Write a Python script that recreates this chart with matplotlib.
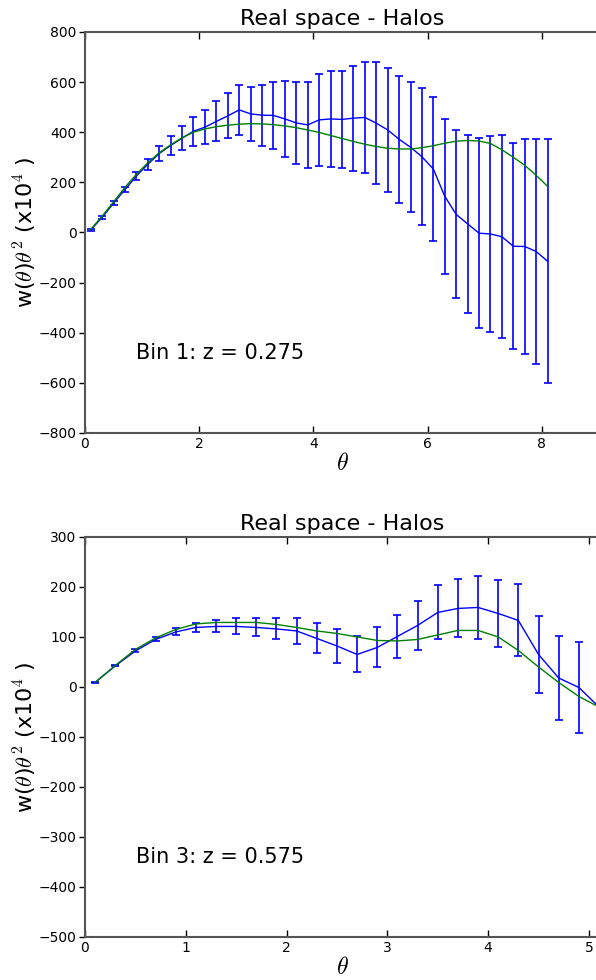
import numpy as np
import matplotlib
matplotlib.use('Agg')
import matplotlib.pyplot as plt

plt.rcParams['mathtext.fontset'] = 'cm'

# Bin 1 (z = 0.275)
theta1 = [0.1, 0.3, 0.5, 0.7, 0.9, 1.1, 1.3, 1.5, 1.7, 1.9, 2.1, 2.3, 2.5, 2.7,
          2.9, 3.1, 3.3, 3.5, 3.7, 3.9, 4.1, 4.3, 4.5, 4.7, 4.9, 5.1, 5.3, 5.5,
          5.7, 5.9, 6.1, 6.3, 6.5, 6.7, 6.9, 7.1, 7.3, 7.5, 7.7, 7.9, 8.1]
meas1 = [10, 60, 117, 171, 225, 272, 315, 347, 376, 404, 420, 443, 465, 489,
         473, 468, 467, 453, 437, 429, 449, 453, 451, 456, 459, 436, 409, 372,
         340, 302, 253, 144, 72, 34, -3, -6, -17, -55, -56, -76, -115]
err1 = [3, 5, 9, 11, 17, 22, 30, 39, 48, 58, 67, 80, 90, 99,
        108, 122, 135, 152, 163, 173, 185, 192, 195, 209, 223, 243, 249, 253,
        260, 273, 286, 309, 335, 355, 378, 390, 406, 410, 428, 449, 487]
model1 = [12, 65, 122, 180, 232, 278, 318, 350, 378, 400, 413, 422, 428, 432,
          434, 433, 430, 425, 418, 409, 399, 387, 375, 363, 352, 343, 336, 333,
          333, 338, 346, 356, 364, 367, 365, 355, 330, 300, 268, 228, 184]

# Bin 3 (z = 0.575) -- last point only shows as the line running off the edge
theta3 = [0.1, 0.3, 0.5, 0.7, 0.9, 1.1, 1.3, 1.5, 1.7, 1.9, 2.1, 2.3, 2.5,
          2.7, 2.9, 3.1, 3.3, 3.5, 3.7, 3.9, 4.1, 4.3, 4.5, 4.7, 4.9, 5.1]
meas3 = [9, 42, 72, 95, 110, 119, 121, 121, 119, 116, 112, 97, 82,
         65, 79, 101, 123, 149, 157, 159, 147, 133, 65, 18, -1, -40]
err3 = [1, 1, 3, 4, 7, 9, 12, 16, 18, 21, 26, 30, 34,
        36, 40, 43, 49, 54, 58, 63, 67, 72, 77, 84, 91]
model3 = [9, 43, 75, 98, 115, 126, 129, 129, 129, 125, 119, 112, 107,
          100, 93, 92, 95, 104, 113, 113, 100, 73, 40, 9, -19, -40]

fig = plt.figure(figsize=(5.96, 9.8), dpi=100)

panels = [
    ([0.1426, 0.5582, 0.8624, 0.4092], theta1, meas1, err1, model1,
     (0, 9), (-800, 800), 200, [0, 2, 4, 6, 8], 'Bin 1: z = 0.275'),
    ([0.1426, 0.0439, 0.8624, 0.4082], theta3, meas3, err3, model3,
     (0, 5.1), (-500, 300), 100, [0, 1, 2, 3, 4, 5], 'Bin 3: z = 0.575'),
]

for pos, th, ms, er, md, xl, yl, ystep, xt, lab in panels:
    ax = fig.add_axes(pos)
    n = len(er)
    ax.plot(th, ms, color='#0000ff', lw=1.0)
    ax.errorbar(th[:n], ms[:n], yerr=er, fmt='none', ecolor='#0000ff',
                elinewidth=1.2, capsize=3, capthick=1.2)
    ax.plot(th, md, color='#008000', lw=1.0)
    ax.set_xlim(*xl)
    ax.set_ylim(*yl)
    ax.set_yticks(np.arange(yl[0], yl[1] + 1, ystep))
    ax.set_xticks(xt)
    for s in ax.spines.values():
        s.set_color('#555555')
        s.set_linewidth(1.5)
    ax.tick_params(axis='x', direction='in', top=True, length=5, width=1,
                   labelsize=10, pad=3)
    ax.tick_params(axis='y', direction='out', length=4, width=1,
                   labelsize=10, pad=2)
    ax.set_title('Real space - Halos', fontsize=16, pad=5)
    ax.set_xlabel(r'$\theta$', fontsize=17, labelpad=0)
    ax.set_ylabel(r'w($\theta$)$\theta^2$ (x10$^4$ )', fontsize=16, labelpad=0)
    ax.text(0.1, 0.2, lab, transform=ax.transAxes, fontsize=15, va='center')

fig.savefig('out.png', dpi=100)
